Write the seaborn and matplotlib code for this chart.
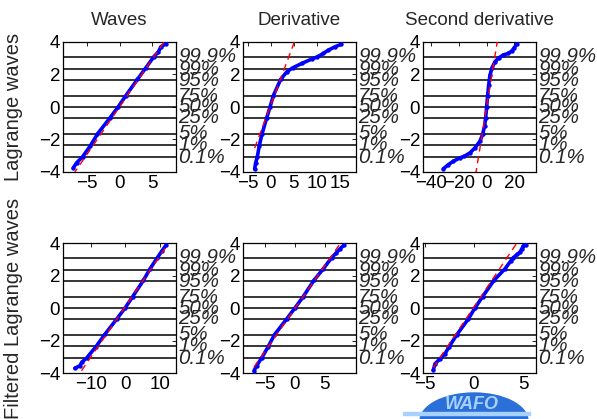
from statistics import NormalDist

import matplotlib
matplotlib.use('Agg')
import numpy as np
import pandas as pd
import seaborn as sns
import matplotlib.pyplot as plt
from matplotlib.patches import Ellipse, Rectangle

# titles and probability levels
col_titles = ['Waves', 'Derivative', 'Second derivative']
row_labels = ['Lagrange waves', 'Filtered Lagrange waves']
levels = [0.001, 0.01, 0.05, 0.25, 0.5, 0.75, 0.95, 0.99, 0.999]
level_labels = ['0.1%', '1%', '5%', '25%', '50%', '75%', '95%', '99%', '99.9%']
y_ticks = [-4, -2, 0, 2, 4]

# sorted sample values and their normal scores
waves_z = [-3.76, -3.44, -3.07, -2.37, -1.66, -0.68, 0, 0.70, 1.70, 2.41, 3.09, 3.40, 3.71, 3.88]
waves_x = [-7.14, -6.63, -5.71, -4.49, -3.42, -1.53, -0.26, 0.92, 2.70, 3.98, 5.20, 5.92, 6.28, 7.04]

deriv_z = [-3.82, -3.44, -3.07, -2.37, -1.66, -0.68, 0, 0.70, 1.70, 2.16, 2.41, 2.68, 2.95, 3.09,
           3.30, 3.50, 3.71, 3.86]
deriv_x = [-3.48, -3.26, -2.90, -2.46, -1.88, -0.87, -0.14, 0.58, 2.17, 3.48, 4.78, 6.74, 8.90, 10.14,
           11.45, 12.5, 14.0, 15.3]

deriv2_z = [-3.80, -3.55, -3.34, -3.13, -3.03, -2.82, -2.51, -2.10, -1.68, -1.16, -0.68, 0, 0.70, 1.33,
            1.95, 2.41, 2.78, 3.03, 3.20, 3.30, 3.44, 3.65, 3.88]
deriv2_x = [-31.3, -27.7, -24.1, -19.3, -16.1, -12.0, -8.4, -4.8, -2.9, -1.45, -0.72, 0, 0.72, 1.45,
            2.4, 3.86, 6.0, 8.9, 12.0, 15.7, 18.1, 20.0, 21.9]

fwaves_z = [-3.71, -3.55, -3.34, -3.07, -2.37, -1.66, -0.68, 0, 0.70, 1.70, 2.41, 3.09, 3.50, 3.86]
fwaves_x = [-14.6, -13.1, -12.6, -11.15, -8.46, -6.06, -2.5, -0.1, 2.1, 5.2, 7.1, 9.2, 10.5, 11.7]

fderiv_z = [-3.86, -3.55, -3.07, -2.37, -1.66, -0.68, 0, 0.70, 1.70, 2.41, 3.09, 3.40, 3.65, 3.86]
fderiv_x = [-6.9, -6.46, -5.6, -4.5, -3.48, -1.4, 0, 1.4, 3.2, 4.78, 6.18, 7.0, 7.6, 8.26]

fderiv2_z = [-3.82, -3.44, -3.13, -2.82, -2.37, -1.66, -0.68, 0, 0.70, 1.70, 2.41, 2.88, 3.09, 3.30,
             3.44, 3.61, 3.82, 3.88]
fderiv2_x = [-4.15, -3.98, -3.47, -2.96, -2.52, -1.77, -0.58, 0.1, 0.88, 2.04, 3.16, 3.74, 4.0, 4.42,
             4.69, 4.86, 5.03, 5.3]

# sample quartiles used for the reference line
q25 = [-1.21, -1.03, -1.29, -2.46, -1.24, -0.82]
q75 = [1.09, 0.75, 1.29, 1.86, 1.34, 0.68]

x_limits = [(-8.7, 8.6), (-6.0, 18.5), (-46, 35.7), (-18, 14.6), (-8.76, 10.3), (-5.2, 6.33)]
x_ticks = [[-5, 0, 5], [-5, 0, 5, 10, 15], [-40, -20, 0, 20], [-10, 0, 10], [-5, 0, 5], [-5, 0, 5]]

samples = [(waves_x, waves_z), (deriv_x, deriv_z), (deriv2_x, deriv2_z),
           (fwaves_x, fwaves_z), (fderiv_x, fderiv_z), (fderiv2_x, fderiv2_z)]

sns.set_style('white')
plt.rcParams['font.family'] = ['Liberation Sans', 'DejaVu Sans']

W, H = 597, 419
fig = plt.figure(figsize=(W / 100, H / 100), dpi=100)

lefts = [63, 243, 423]
tops = [42, 243]
aw, ah = 113, 130

z_levels = [NormalDist().inv_cdf(p) for p in levels]

for i, (xs, zs) in enumerate(samples):
    r, c = divmod(i, 3)
    ax = fig.add_axes([lefts[c] / W, 1 - (tops[r] + ah) / H, aw / W, ah / H])
    df = pd.DataFrame({'x': xs, 'z': zs})

    # horizontal probability grid
    for zl in z_levels:
        ax.axhline(zl, color='black', lw=1.1, zorder=1)

    # reference line through the quartiles
    z75 = NormalDist().inv_cdf(0.75)
    mu = (q25[i] + q75[i]) / 2
    sig = (q75[i] - q25[i]) / (2 * z75)
    xr = np.array([min(xs), max(xs)])
    ref = pd.DataFrame({'x': xr, 'z': (xr - mu) / sig})

    sns.lineplot(data=df, x='x', y='z', ax=ax, color='blue', lw=2.6, sort=False,
                 estimator=None, zorder=3)
    sns.scatterplot(data=df, x='x', y='z', ax=ax, color='blue', s=10, linewidth=0, zorder=4)
    ax.plot(ref['x'], ref['z'], color='red', lw=1.0, dashes=(5, 3.5), zorder=5)

    ax.set_xlim(*x_limits[i])
    ax.set_ylim(-4, 4)
    ax.set_xticks(x_ticks[i])
    ax.set_yticks(y_ticks)
    ax.set_xlabel('')
    ax.set_ylabel('')
    ax.tick_params(direction='in', length=3, width=0.6, labelsize=13.5, top=True, right=True,
                   pad=2, colors='black')
    for sp in ax.spines.values():
        sp.set_color('black')
        sp.set_linewidth(0.9)

    for zl, lab in zip(z_levels, level_labels):
        ax.text(1.02, zl, lab, transform=ax.get_yaxis_transform(), fontsize=14.8, style='italic',
                va='center', ha='left', clip_on=False, zorder=10)

    if r == 0:
        ax.set_title(col_titles[c], fontsize=13.5, pad=12)

for r, lab in enumerate(row_labels):
    yc = 1 - (tops[r] + ah / 2) / H
    fig.text(14 / W, yc, lab, rotation=90, ha='center', va='center', fontsize=14.5)

# small logo at the bottom
logo = fig.add_axes([0, 0, 1, 1], zorder=-1)
logo.set_xlim(0, W)
logo.set_ylim(H, 0)
logo.axis('off')
logo.add_patch(Ellipse((474, 421), 108, 56, color='#2b6fd8'))
logo.add_patch(Rectangle((403, 412), 127, 3, color='#a9d1ff'))
logo.text(472, 404, 'WAFO', fontsize=13, fontweight='bold', style='italic', color='#a9d1ff',
          ha='center', va='center')

fig.savefig('out.png', dpi=100)
